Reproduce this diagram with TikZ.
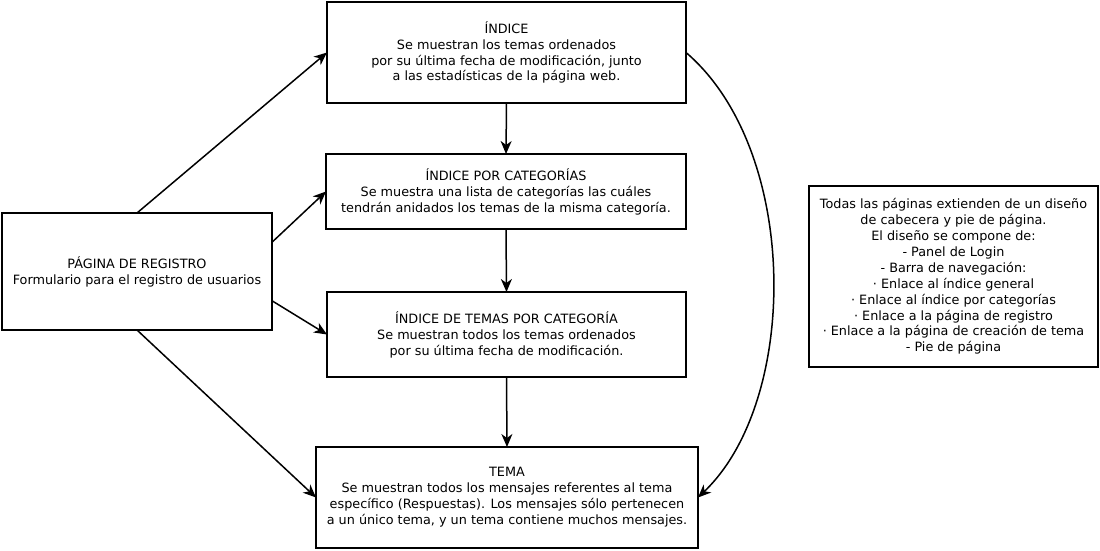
\documentclass[tikz,border=0pt]{standalone}
\usepackage{fontspec}
\setmainfont{DejaVu Sans}
\usetikzlibrary{arrows.meta,calc}
\begin{document}
\begin{tikzpicture}[x=1pt,y=-1pt,
  box/.style={draw,line width=1.5pt,rectangle,inner sep=0pt,outer sep=0pt,align=center,
    font=\fontsize{12.8}{15.9}\selectfont},
  conn/.style={line width=1.5pt,-{Stealth[length=13pt,width=11pt,inset=4pt]}}]
\useasboundingbox (0,0) rectangle (1100,551);
\node[box,minimum width=359pt,minimum height=101pt] (indice) at (506.5,52.5)
  {ÍNDICE\\Se muestran los temas ordenados\\por su última fecha de modificación, junto\\a las estadísticas de la página web.};
\node[box,minimum width=360pt,minimum height=75pt] (porcat) at (506,191.5)
  {ÍNDICE POR CATEGORÍAS\\Se muestra una lista de categorías las cuáles\\tendrán anidados los temas de la misma categoría.};
\node[box,minimum width=359pt,minimum height=85pt] (temas) at (506.5,334.5)
  {ÍNDICE DE TEMAS POR CATEGORÍA\\Se muestran todos los temas ordenados\\por su última fecha de modificación.};
\node[box,minimum width=382pt,minimum height=101pt] (tema) at (507,497.5)
  {TEMA\\Se muestran todos los mensajes referentes al tema\\específico (Respuestas). Los mensajes sólo pertenecen\\a un único tema, y un tema contiene muchos mensajes.};
\node[box,minimum width=270pt,minimum height=117pt] (reg) at (137,271.5)
  {PÁGINA DE REGISTRO\\Formulario para el registro de usuarios};
\node[box,minimum width=289pt,minimum height=181pt] (nota) at (953.5,276.5)
  {Todas las páginas extienden de un diseño\\de cabecera y pie de página.\\El diseño se compone de:\\- Panel de Login\\- Barra de navegación:\\· Enlace al índice general\\· Enlace al índice por categorías\\· Enlace a la página de registro\\· Enlace a la página de creación de tema\\- Pie de página};
\draw[conn] (reg.north) -- (indice.west);
\draw[conn] ($(reg.north east)!0.25!(reg.south east)$) -- (porcat.west);
\draw[conn] ($(reg.north east)!0.75!(reg.south east)$) -- (temas.west);
\draw[conn] (reg.south) -- (tema.west);
\draw[conn] (indice.south) -- (porcat.north);
\draw[conn] (porcat.south) -- (temas.north);
\draw[conn] (temas.south) -- (tema.north);
\draw[conn] (indice.east) .. controls (800,150) and (800,400) .. (tema.east);
\end{tikzpicture}
\end{document}
